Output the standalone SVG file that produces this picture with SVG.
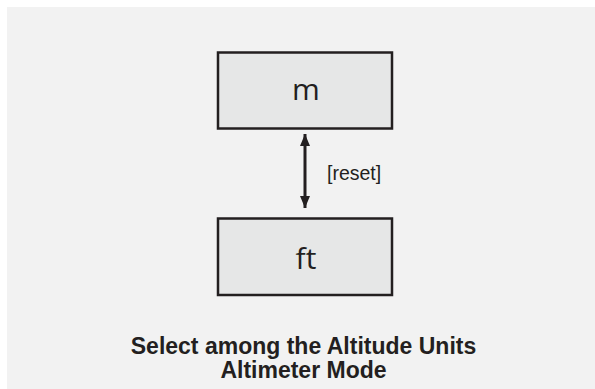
<svg xmlns="http://www.w3.org/2000/svg" width="595" height="389" viewBox="0 0 595 389">
<style>
.node{fill:#e6e7e7;stroke:#231f20;stroke-width:2.5}
.lbl{font-family:"Liberation Sans",Arial,sans-serif;fill:#231f20}
.big{font-family:"Open Sans","Noto Sans",sans-serif;font-size:30px;text-anchor:middle}
.title{font-size:23px;font-weight:bold;text-anchor:middle}
</style>
<defs>
<marker id="ah" viewBox="0 0 12 10" refX="12" refY="5" markerWidth="12" markerHeight="10" markerUnits="userSpaceOnUse" orient="auto-start-reverse">
<path d="M0,0 L12,5 L0,10 z" fill="#231f20"/>
</marker>
</defs>
<rect x="0" y="0" width="595" height="389" fill="#ffffff"/>
<rect x="7" y="7" width="588" height="382" fill="#f2f2f2"/>
<g id="node-m">
<rect class="node" x="218" y="52.5" width="174" height="76"/>
<text class="lbl big" x="306" y="100">m</text>
</g>
<g id="node-ft">
<rect class="node" x="218" y="218.5" width="174" height="76.5"/>
<text class="lbl big" x="306" y="269">ft</text>
</g>
<g id="connectors">
<line x1="305" y1="134" x2="305" y2="208" stroke="#231f20" stroke-width="3" marker-start="url(#ah)" marker-end="url(#ah)"/>
<text class="lbl" x="327" y="180" font-size="19.5">[reset]</text>
</g>
<text class="lbl title" x="303.5" y="354">Select among the Altitude Units</text>
<text class="lbl title" x="303.5" y="378">Altimeter Mode</text>
</svg>
